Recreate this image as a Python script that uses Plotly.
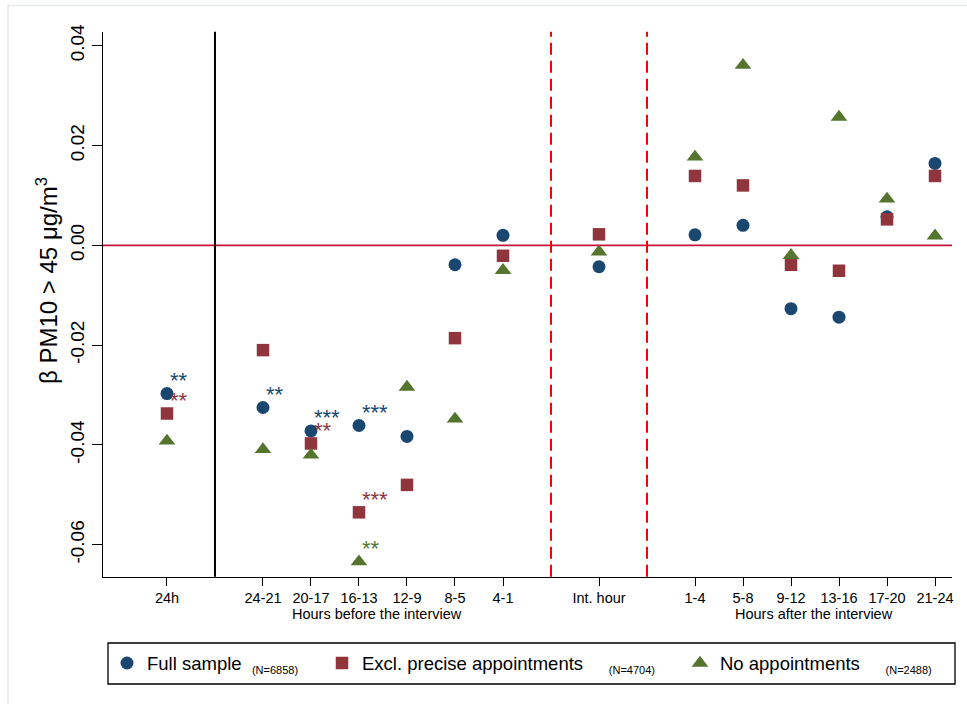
import plotly.graph_objects as go

# ---- data -------------------------------------------------------------
periods = ["24h", "24-21", "20-17", "16-13", "12-9", "8-5", "4-1", "Int. hour",
           "1-4", "5-8", "9-12", "13-16", "17-20", "21-24"]
# slot of each period on the x axis (gaps separate the blocks)
slots = [0, 2, 3, 4, 5, 6, 7, 9, 11, 12, 13, 14, 15, 16]

full_sample = [-0.0297, -0.0325, -0.0372, -0.0361, -0.0383, -0.0039, 0.0020,
               -0.0043, 0.0021, 0.0040, -0.0127, -0.0144, 0.0057, 0.0164]
excl_precise = [-0.0337, -0.0210, -0.0397, -0.0535, -0.0480, -0.0186, -0.0021,
                0.0022, 0.0139, 0.0120, -0.0039, -0.0051, 0.0052, 0.0139]
no_appointments = [-0.0392, -0.0409, -0.0420, -0.0634, -0.0284, -0.0348, -0.0050,
                   -0.0013, 0.0177, 0.0361, -0.0020, 0.0257, 0.0093, 0.0019]

stars_full = ["**", "**", "***", "***", "", "", "", "", "", "", "", "", "", ""]
stars_excl = ["**", "", "**", "***", "", "", "", "", "", "", "", "", "", ""]
stars_noapp = ["", "", "", "**", "", "", "", "", "", "", "", "", "", ""]

y_ticks = [-0.06, -0.04, -0.02, 0.00, 0.02, 0.04]
y_ticktext = ["-0.06", "-0.04", "-0.02", "0.00", "0.02", "0.04"]

# ---- styling ----------------------------------------------------------
W, H = 967, 704
FONT = "Liberation Sans, Arial, sans-serif"
NAVY, MAROON, GREEN = "#1a476f", "#90353b", "#55752f"

# name, sample size, values, stars, colour, symbol, size, legend id, gap before N
series = [
    ("Full sample", "(N=6858)", full_sample, stars_full, NAVY, "circle", 13, "legend", 1),
    ("Excl. precise appointments", "(N=4704)", excl_precise, stars_excl, MAROON, "square", 12.5, "legend2", 4),
    ("No appointments", "(N=2488)", no_appointments, stars_noapp, GREEN, "triangle-up", 14.5, "legend3", 4),
]

fig = go.Figure()
annotations = []
for name, n_txt, vals, stars, color, symbol, size, leg, gap in series:
    label = (f"{name}{'&nbsp;' * gap} <sub><span style='font-size:11px'>{n_txt}</span></sub>")
    fig.add_trace(go.Scatter(
        x=slots, y=vals, mode="markers", name=label,
        marker=dict(color=color, symbol=symbol, size=size, line=dict(width=0)),
        legend=leg, cliponaxis=False,
    ))
    for xs, v, s in zip(slots, vals, stars):
        if s:
            annotations.append(dict(
                x=xs, y=v, xref="x", yref="y", text=s, showarrow=False,
                xanchor="left", yanchor="middle", xshift=1, yshift=13,
                font=dict(family=FONT, size=22, color=color),
            ))

# block captions under the tick labels
cap_y = (H - 613.5) / H
annotations += [
    dict(x=4.375, y=cap_y, xref="x", yref="paper", yanchor="middle",
         text="Hours before the interview", showarrow=False,
         font=dict(family=FONT, size=14.5, color="black")),
    dict(x=13.48, y=cap_y, xref="x", yref="paper", yanchor="middle",
         text="Hours after the interview", showarrow=False,
         font=dict(family=FONT, size=14.5, color="black")),
    dict(x=47 / W, y=(H - 281) / H, xref="paper", yref="paper",
         xanchor="center", yanchor="middle",
         text="β PM10 > 45 μg/m<sup>3</sup>", textangle=-90, showarrow=False,
         font=dict(family=FONT, size=24, color="black")),
]

plot_top, plot_bottom = 31.7, 576.7
shapes = [
    # zero line
    dict(type="line", xref="paper", yref="y", x0=103 / W, x1=952 / W, y0=0, y1=0,
         line=dict(color="#c8143c", width=1.8), layer="below"),
    # separator between the daily estimate and the hourly ones
    dict(type="line", xref="x", yref="paper", x0=1, x1=1,
         y0=(H - plot_bottom) / H, y1=(H - plot_top) / H,
         line=dict(color="black", width=2), layer="below"),
    # interview hour bounds
    dict(type="line", xref="x", yref="paper", x0=8, x1=8,
         y0=(H - plot_bottom) / H, y1=(H - plot_top) / H,
         line=dict(color="#ff0000", width=2, dash="12px,6px"), layer="below"),
    dict(type="line", xref="x", yref="paper", x0=10, x1=10,
         y0=(H - plot_bottom) / H, y1=(H - plot_top) / H,
         line=dict(color="#ff0000", width=2, dash="12px,6px"), layer="below"),
    # legend frame
    dict(type="rect", xref="paper", yref="paper",
         x0=108 / W, x1=955 / W, y0=(H - 684) / H, y1=(H - 643) / H,
         line=dict(color="black", width=1.3)),
    # outer graph region frame
    dict(type="rect", xref="paper", yref="paper",
         x0=8 / W, x1=1.02, y0=-0.02, y1=(H - 5.5) / H,
         line=dict(color="#e3e9ee", width=1.5)),
]

leg_common = dict(orientation="h", yanchor="middle", xanchor="left",
                  y=(H - 663.5) / H, bgcolor="rgba(0,0,0,0)", borderwidth=0,
                  font=dict(family=FONT, size=18.5, color="black"))

fig.update_layout(
    width=W, height=H,
    margin=dict(l=0, r=0, t=0, b=0, pad=0, autoexpand=False),
    paper_bgcolor="white", plot_bgcolor="white",
    font=dict(family=FONT, color="black"),
    xaxis=dict(
        domain=[103 / W, 952 / W], range=[-1.333, 16.354],
        tickvals=slots, ticktext=periods, automargin=False,
        ticks="outside", ticklen=8, tickwidth=1.3, tickcolor="black",
        showline=True, linecolor="black", linewidth=1.3,
        showgrid=False, zeroline=False,
        tickfont=dict(family=FONT, size=14.5, color="black"),
    ),
    yaxis=dict(
        domain=[(H - plot_bottom) / H, (H - plot_top) / H], range=[-0.0664, 0.0428],
        tickvals=y_ticks, ticktext=y_ticktext, tickangle=-90, automargin=False,
        ticks="outside", ticklen=10, tickwidth=1.3, tickcolor="black",
        showline=True, linecolor="black", linewidth=1.3,
        showgrid=False, zeroline=False,
        tickfont=dict(family=FONT, size=19, color="black"),
    ),
    showlegend=True,
    legend=dict(leg_common, x=107 / W),
    legend2=dict(leg_common, x=322 / W),
    legend3=dict(leg_common, x=680 / W),
    annotations=annotations,
    shapes=shapes,
)

fig.write_html("out.html")
